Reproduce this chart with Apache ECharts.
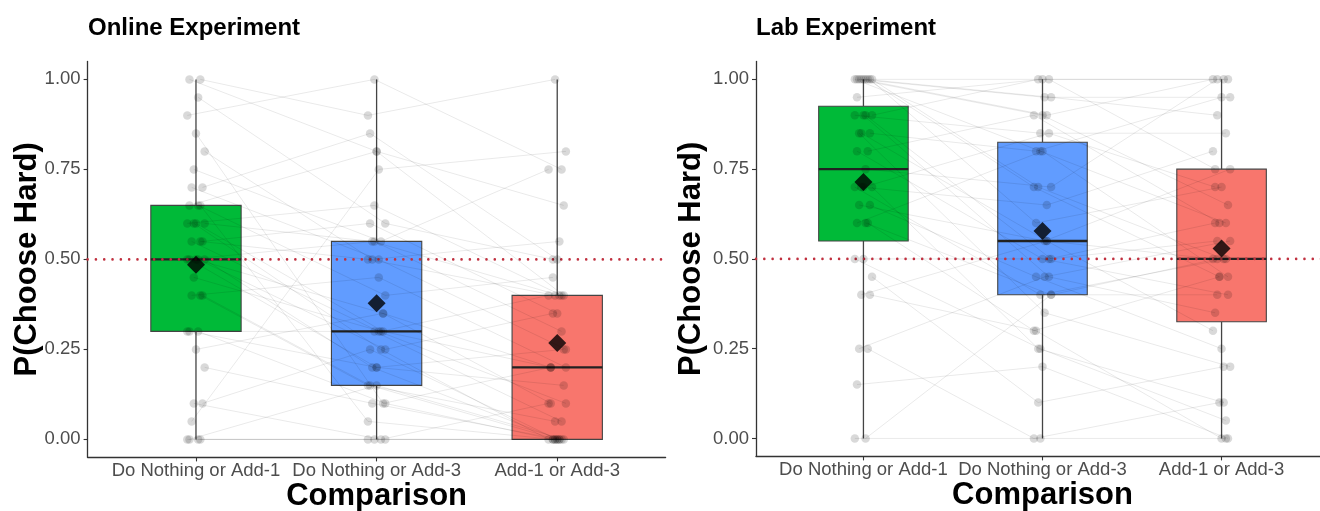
<!DOCTYPE html>
<html><head><meta charset="utf-8">
<script src="https://cdn.jsdelivr.net/npm/echarts@6/dist/echarts.min.js"></script>
<style>html,body{margin:0;padding:0;background:#fff}#c{width:1320px;height:511px}</style>
</head><body><div id="c"></div>
<script>
// ---------- data ----------
const categories = ['Do Nothing or Add-1', 'Do Nothing or Add-3', 'Add-1 or Add-3'];
const panelTitles = ['Online Experiment', 'Lab Experiment'];
const yTicks = [0, 0.25, 0.5, 0.75, 1];
const refLine = 0.5;
const boxColors = ['#00BA38', '#619CFF', '#F8766D'];

// Online experiment, one value per participant and comparison
const onlineDoNothingAdd1 = [0,0,0,0,0.05,0.1,0.1,0.2,0.25,0.3, 0.3,0.3,0.4,0.4,0.4,0.45,0.5,0.5,0.5,0.5, 0.5,0.55,0.55,0.55,0.6,0.6,0.6,0.6,0.65,0.65, 0.65,0.7,0.7,0.75,0.8,0.85,0.9,0.95,1,1];
const onlineDoNothingAdd3 = [0,0,0.15,0,0.75,0.25,0,0.1,0.35,0.3, 0.1,0.2,0.15,0.45,0.15,0.3,0.2,0.35,0.55,0.25, 0.2,0.5,0.3,0.6,0.25,0.55,0.3,0.65,0.4,0.8, 0.05,0.5,0.85,0.55,0.5,0.1,1,0.6,0.8,0.9];
const onlineAdd1Add3 = [0,0,0,0,0.8,0,0.1,0,0.1,0.05, 0,0.25,0.05,0.2,0,0.4,0,0.2,0.3,0.35, 0.15,0.4,0.1,0.35,0,0.4,0.2,0.4,0.45,0.4, 0,0.25,0.5,0.75,0.55,0.2,0.75,0.5,0.65,1];

// Lab experiment
const labDoNothingAdd1 = [0,0,0.15,0.25,0.25,0.4,0.4,0.45,0.5,0.5, 0.6,0.6,0.6,0.65,0.65,0.7,0.7,0.7,0.7,0.75, 0.8,0.8,0.85,0.85,0.85,0.9,0.9,0.9,0.9,0.95, 1,1,1,1,1,1,1,1,1];
const labDoNothingAdd3 = [0,0.4,0.2,0,0.45,0.3,0.55,0.1,0.5,0.25, 0.4,0.8,0.3,0.55,0.45,0.65,0.25,0.85,0.4,0.7, 0.5,0.9,0.35,0.8,0.55,1,0.45,0.85,0.5,1, 0.7,0.95,0.6,0.9,0.7,1,0.8,0.95,0.9];
const labAdd1Add3 = [0,0.4,0,0.1,0.55,0,0.3,0.2,0.6,0.05, 0.5,0.45,0.45,0.75,0.25,0.8,0.1,0.7,0.5,1, 0.4,0.6,0.2,0.95,0.5,1,0.35,0.85,0.55,1, 0.45,0.95,0.7,1,0.5,0.75,0.6,0.9,0.65];

// Box statistics
const onlineLow = [0, 0, 0];
const onlineQ1 = [0.30, 0.15, 0.00];
const onlineMedian = [0.50, 0.30, 0.20];
const onlineQ3 = [0.65, 0.55, 0.40];
const onlineHigh = [1, 1, 1];
const onlineMean = [0.485, 0.378, 0.268];

const labLow = [0, 0, 0];
const labQ1 = [0.55, 0.40, 0.325];
const labMedian = [0.75, 0.55, 0.50];
const labQ3 = [0.925, 0.825, 0.75];
const labHigh = [1, 1, 1];
const labMean = [0.714, 0.578, 0.529];

// ---------- chart ----------
const FONT = "'Liberation Sans', Arial, Helvetica, sans-serif";
const chart = echarts.init(document.getElementById('c'), null, {renderer: 'canvas'});

function jitter(i, c) { return ((((i * 5 + c * 3) % 9) - 4) * 0.012); }

function panelSeries(k, conds, low, q1, med, q3, high, mean) {
  const boxData = categories.map((_, c) => [c + 1, low[c], q1[c], med[c], q3[c], high[c]]);
  const n = conds[0].length;
  const pts = [];
  const lines = [];
  for (let i = 0; i < n; i++) {
    const coords = [];
    for (let c = 0; c < 3; c++) {
      const p = [c + 1 + jitter(i, c), conds[c][i]];
      pts.push(p);
      coords.push(p);
    }
    lines.push({coords: coords});
  }
  return [
    {
      type: 'custom', xAxisIndex: k, yAxisIndex: k, z: 1, silent: true,
      data: boxData,
      renderItem: function (params, api) {
        const x = api.value(0), lo = api.value(1), a = api.value(2), m = api.value(3), b = api.value(4), hi = api.value(5);
        const h = 0.25;
        const tl = api.coord([x - h, b]);
        const br = api.coord([x + h, a]);
        const cLo = api.coord([x, lo]), cA = api.coord([x, a]), cB = api.coord([x, b]), cHi = api.coord([x, hi]);
        const mL = api.coord([x - h, m]), mR = api.coord([x + h, m]);
        const ws = {stroke: '#444', lineWidth: 1.3};
        return {type: 'group', children: [
          {type: 'line', shape: {x1: cB[0], y1: cB[1], x2: cHi[0], y2: cHi[1]}, style: ws},
          {type: 'line', shape: {x1: cLo[0], y1: cLo[1], x2: cA[0], y2: cA[1]}, style: ws},
          {type: 'rect', shape: {x: tl[0], y: tl[1], width: br[0] - tl[0], height: br[1] - tl[1]},
            style: {fill: boxColors[params.dataIndex], stroke: '#444', lineWidth: 1.1}},
          {type: 'line', shape: {x1: mL[0], y1: mL[1], x2: mR[0], y2: mR[1]}, style: {stroke: '#222', lineWidth: 2.4}}
        ]};
      }
    },
    {
      type: 'lines', coordinateSystem: 'cartesian2d', xAxisIndex: k, yAxisIndex: k, z: 2, silent: true,
      polyline: true, data: lines,
      lineStyle: {color: 'rgba(0,0,0,0.085)', width: 1, opacity: 1}
    },
    {
      type: 'line', xAxisIndex: k, yAxisIndex: k, z: 3, silent: true, showSymbol: false,
      data: [[0.4, refLine], [3.6, refLine]],
      lineStyle: {color: '#C0303F', width: 2.6, type: [0.01, 8.3], cap: 'round'}
    },
    {
      type: 'scatter', xAxisIndex: k, yAxisIndex: k, z: 4, silent: true,
      data: pts, symbolSize: 8.5,
      itemStyle: {color: 'rgba(0,0,0,0.19)'}
    },
    {
      type: 'scatter', xAxisIndex: k, yAxisIndex: k, z: 5, silent: true,
      data: mean.map((v, c) => [c + 1, v]), symbol: 'diamond', symbolSize: 18,
      itemStyle: {color: '#000'}
    }
  ];
}

function xAxis(k) {
  return {
    gridIndex: k, type: 'value', min: 0.4, max: 3.6,
    axisLine: {show: true, onZero: false, lineStyle: {color: '#333', width: 1.3}},
    axisTick: {show: true, customValues: [1, 2, 3], length: 4, lineStyle: {color: '#333', width: 1.1}},
    axisLabel: {customValues: [1, 2, 3], formatter: v => categories[Math.round(v) - 1],
      color: '#4D4D4D', fontSize: 18.5, fontFamily: FONT, margin: 4},
    splitLine: {show: false},
    name: 'Comparison', nameLocation: 'middle', nameGap: 24, nameMoveOverlap: false,
    nameTextStyle: {color: '#000', fontSize: 31, fontWeight: 'bold', fontFamily: FONT}
  };
}
function yAxis(k, gap) {
  return {
    gridIndex: k, type: 'value', min: -0.05, max: 1.05,
    axisLine: {show: true, onZero: false, lineStyle: {color: '#333', width: 1.3}},
    axisTick: {show: true, customValues: yTicks, length: 4, lineStyle: {color: '#333', width: 1.1}},
    axisLabel: {customValues: yTicks, formatter: v => v.toFixed(2),
      color: '#4D4D4D', fontSize: 18.5, fontFamily: FONT, margin: 7},
    splitLine: {show: false},
    name: 'P(Choose Hard)', nameLocation: 'middle', nameGap: gap, nameMoveOverlap: false,
    nameTextStyle: {color: '#000', fontSize: 31, fontWeight: 'bold', fontFamily: FONT}
  };
}

const option = {
  backgroundColor: '#fff',
  animation: false,
  title: [
    {text: panelTitles[0], left: 88, top: 16, padding: 0, textStyle: {fontSize: 24, fontWeight: 'bold', color: '#000', fontFamily: FONT}},
    {text: panelTitles[1], left: 756, top: 16, padding: 0, textStyle: {fontSize: 24, fontWeight: 'bold', color: '#000', fontFamily: FONT}}
  ],
  grid: [
    {left: 87.6, top: 61.4, width: 578, height: 396, outerBoundsMode: 'none', containLabel: false},
    {left: 756, top: 61.4, width: 573, height: 395, outerBoundsMode: 'none', containLabel: false}
  ],
  xAxis: [xAxis(0), xAxis(1)],
  yAxis: [yAxis(0, 45), yAxis(1, 49)],
  series: [].concat(
    panelSeries(0, [onlineDoNothingAdd1, onlineDoNothingAdd3, onlineAdd1Add3], onlineLow, onlineQ1, onlineMedian, onlineQ3, onlineHigh, onlineMean),
    panelSeries(1, [labDoNothingAdd1, labDoNothingAdd3, labAdd1Add3], labLow, labQ1, labMedian, labQ3, labHigh, labMean)
  )
};
chart.setOption(option);
</script>
</body></html>
